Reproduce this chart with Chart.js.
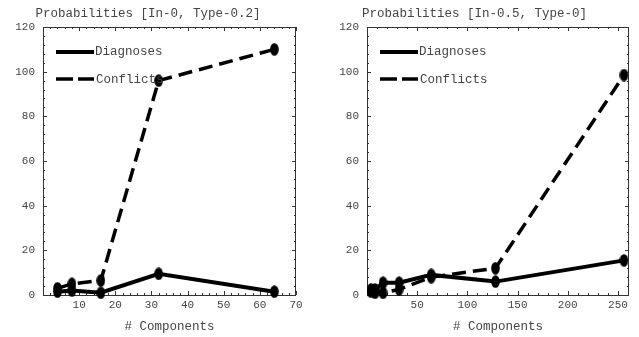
<!DOCTYPE html>
<html>
<head>
<meta charset="utf-8">
<script src="https://cdn.jsdelivr.net/npm/chart.js@4/dist/chart.umd.min.js"></script>
<style>
  html, body { margin: 0; padding: 0; background: #fff; }
  #wrap { position: relative; width: 639px; height: 337px; }
  canvas { position: absolute; top: 0; }
</style>
</head>
<body>
<div id="wrap">
  <canvas id="left" width="320" height="337" style="left:0"></canvas>
  <canvas id="right" width="319" height="337" style="left:320px"></canvas>
</div>
<script>
// left panel: In-0, Type-0.2
const leftComponents = [4, 8, 16, 32, 64];
const leftDiagnoses = [1.5, 2, 1, 9.5, 1.5];
const leftConflicts = [3, 5, 6.5, 96, 110];

// right panel: In-0.5, Type-0
const rightComponents = [4, 8, 16, 32, 64, 128, 256];
const rightDiagnoses = [2.5, 2.5, 5.5, 5.5, 9, 6, 15.5];
const rightConflicts = [1.5, 1, 1, 2.5, 8, 12, 98.5];

const yTicks = [0, 20, 40, 60, 80, 100, 120];
const leftXTicks = [10, 20, 30, 40, 50, 60, 70];
const rightXTicks = [50, 100, 150, 200, 250];

const mono = 'Liberation Mono, DejaVu Sans Mono, monospace';
const textColor = '#444';

// tall oval marker
const dot = document.createElement('canvas');
dot.width = 9;
dot.height = 13;
const dctx = dot.getContext('2d');
dctx.fillStyle = '#000';
dctx.beginPath();
dctx.ellipse(4.5, 6.5, 4.3, 6.3, 0, 0, Math.PI * 2);
dctx.fill();

const frame = {
  id: 'frame',
  beforeDatasetsDraw(chart, args, opts) {
    const ctx = chart.ctx;
    const a = chart.chartArea;
    const xs = chart.scales.x, ys = chart.scales.y;
    ctx.save();
    ctx.strokeStyle = '#333';
    ctx.lineWidth = 1;
    ctx.strokeRect(a.left + 0.5, a.top + 0.5, a.right - a.left - 1, a.bottom - a.top);
    ctx.beginPath();
    for (let v = 0; v <= xs.max; v += opts.xMinor) {
      const px = Math.round(xs.getPixelForValue(v)) + 0.5;
      const len = v % opts.xMajor === 0 ? 4 : 2;
      ctx.moveTo(px, a.bottom); ctx.lineTo(px, a.bottom - len);
      ctx.moveTo(px, a.top); ctx.lineTo(px, a.top + len);
    }
    for (let v = 0; v <= 120; v += 4) {
      const py = Math.round(ys.getPixelForValue(v)) + 0.5;
      const len = v % 20 === 0 ? 4 : 2;
      ctx.moveTo(a.left, py); ctx.lineTo(a.left + len, py);
      ctx.moveTo(a.right, py); ctx.lineTo(a.right - len, py);
    }
    ctx.stroke();
    ctx.restore();
  },
  afterDatasetsDraw(chart) {
    // legend inside the frame, upper left
    const ctx = chart.ctx;
    const a = chart.chartArea;
    const x0 = a.left + 13;
    ctx.save();
    ctx.strokeStyle = '#000';
    ctx.lineCap = 'butt';
    ctx.lineWidth = 4;
    ctx.beginPath();
    ctx.moveTo(x0, a.top + 25); ctx.lineTo(x0 + 38, a.top + 25);
    ctx.stroke();
    ctx.lineWidth = 3.5;
    ctx.setLineDash([17, 5]);
    ctx.beginPath();
    ctx.moveTo(x0, a.top + 52); ctx.lineTo(x0 + 38, a.top + 52);
    ctx.stroke();
    ctx.fillStyle = textColor;
    ctx.font = '12.5px ' + mono;
    ctx.textBaseline = 'middle';
    ctx.fillText('Diagnoses', x0 + 39, a.top + 25);
    ctx.fillText('Conflicts', x0 + 40, a.top + 53);
    ctx.restore();
  }
};

function makeChart(id, xs, diag, conf, opts) {
  const config = {
    type: 'line',
    data: {
      datasets: [
        {
          label: 'Diagnoses',
          data: xs.map((x, i) => ({ x: x, y: diag[i] })),
          borderColor: '#000',
          borderWidth: 4,
          pointStyle: dot,
          pointRadius: 5,
          clip: false,
        },
        {
          label: 'Conflicts',
          data: xs.map((x, i) => ({ x: x, y: conf[i] })),
          borderColor: '#000',
          borderWidth: 3.5,
          borderDash: [14, 7],
          pointStyle: dot,
          pointRadius: 5,
          clip: false,
        },
      ],
    },
    options: {
      responsive: false,
      animation: false,
      layout: { padding: { left: 0, right: opts.padRight, top: 0, bottom: 0 } },
      plugins: {
        legend: { display: false },
        tooltip: { enabled: false },
        title: {
          display: true,
          text: opts.title,
          color: textColor,
          font: { family: mono, size: 12.5, weight: 'normal' },
          padding: { top: 6, bottom: 6 },
        },
        frame: { xMajor: opts.xMajor, xMinor: opts.xMinor },
      },
      scales: {
        x: {
          type: 'linear',
          min: 0,
          max: opts.xMax,
          grid: { display: false, drawTicks: false },
          border: { display: false },
          afterBuildTicks: (s) => { s.ticks = opts.xTicks.map((v) => ({ value: v })); },
          afterFit: (s) => { s.height = 42; },
          ticks: {
            color: textColor,
            padding: 3,
            maxRotation: 0,
            autoSkip: false,
            font: { family: mono, size: 11 },
          },
          title: {
            display: true,
            text: '# Components',
            color: textColor,
            font: { family: mono, size: 12.5 },
            padding: { top: 0, bottom: 3 },
          },
        },
        y: {
          min: 0,
          max: 120,
          grid: { display: false, drawTicks: false },
          border: { display: false },
          afterBuildTicks: (s) => { s.ticks = yTicks.map((v) => ({ value: v })); },
          afterFit: (s) => { s.width = opts.yWidth; },
          ticks: {
            color: textColor,
            padding: 8,
            font: { family: mono, size: 11 },
          },
        },
      },
    },
    plugins: [frame],
  };
  return new Chart(document.getElementById(id), config);
}

makeChart('left', leftComponents, leftDiagnoses, leftConflicts, {
  title: 'Probabilities [In-0, Type-0.2]',
  xMax: 70, xMajor: 10, xMinor: 2, xTicks: leftXTicks,
  padRight: 24, yWidth: 43,
});

makeChart('right', rightComponents, rightDiagnoses, rightConflicts, {
  title: 'Probabilities [In-0.5, Type-0]',
  xMax: 261, xMajor: 50, xMinor: 10, xTicks: rightXTicks,
  padRight: 10, yWidth: 47,
});
</script>
</body>
</html>
